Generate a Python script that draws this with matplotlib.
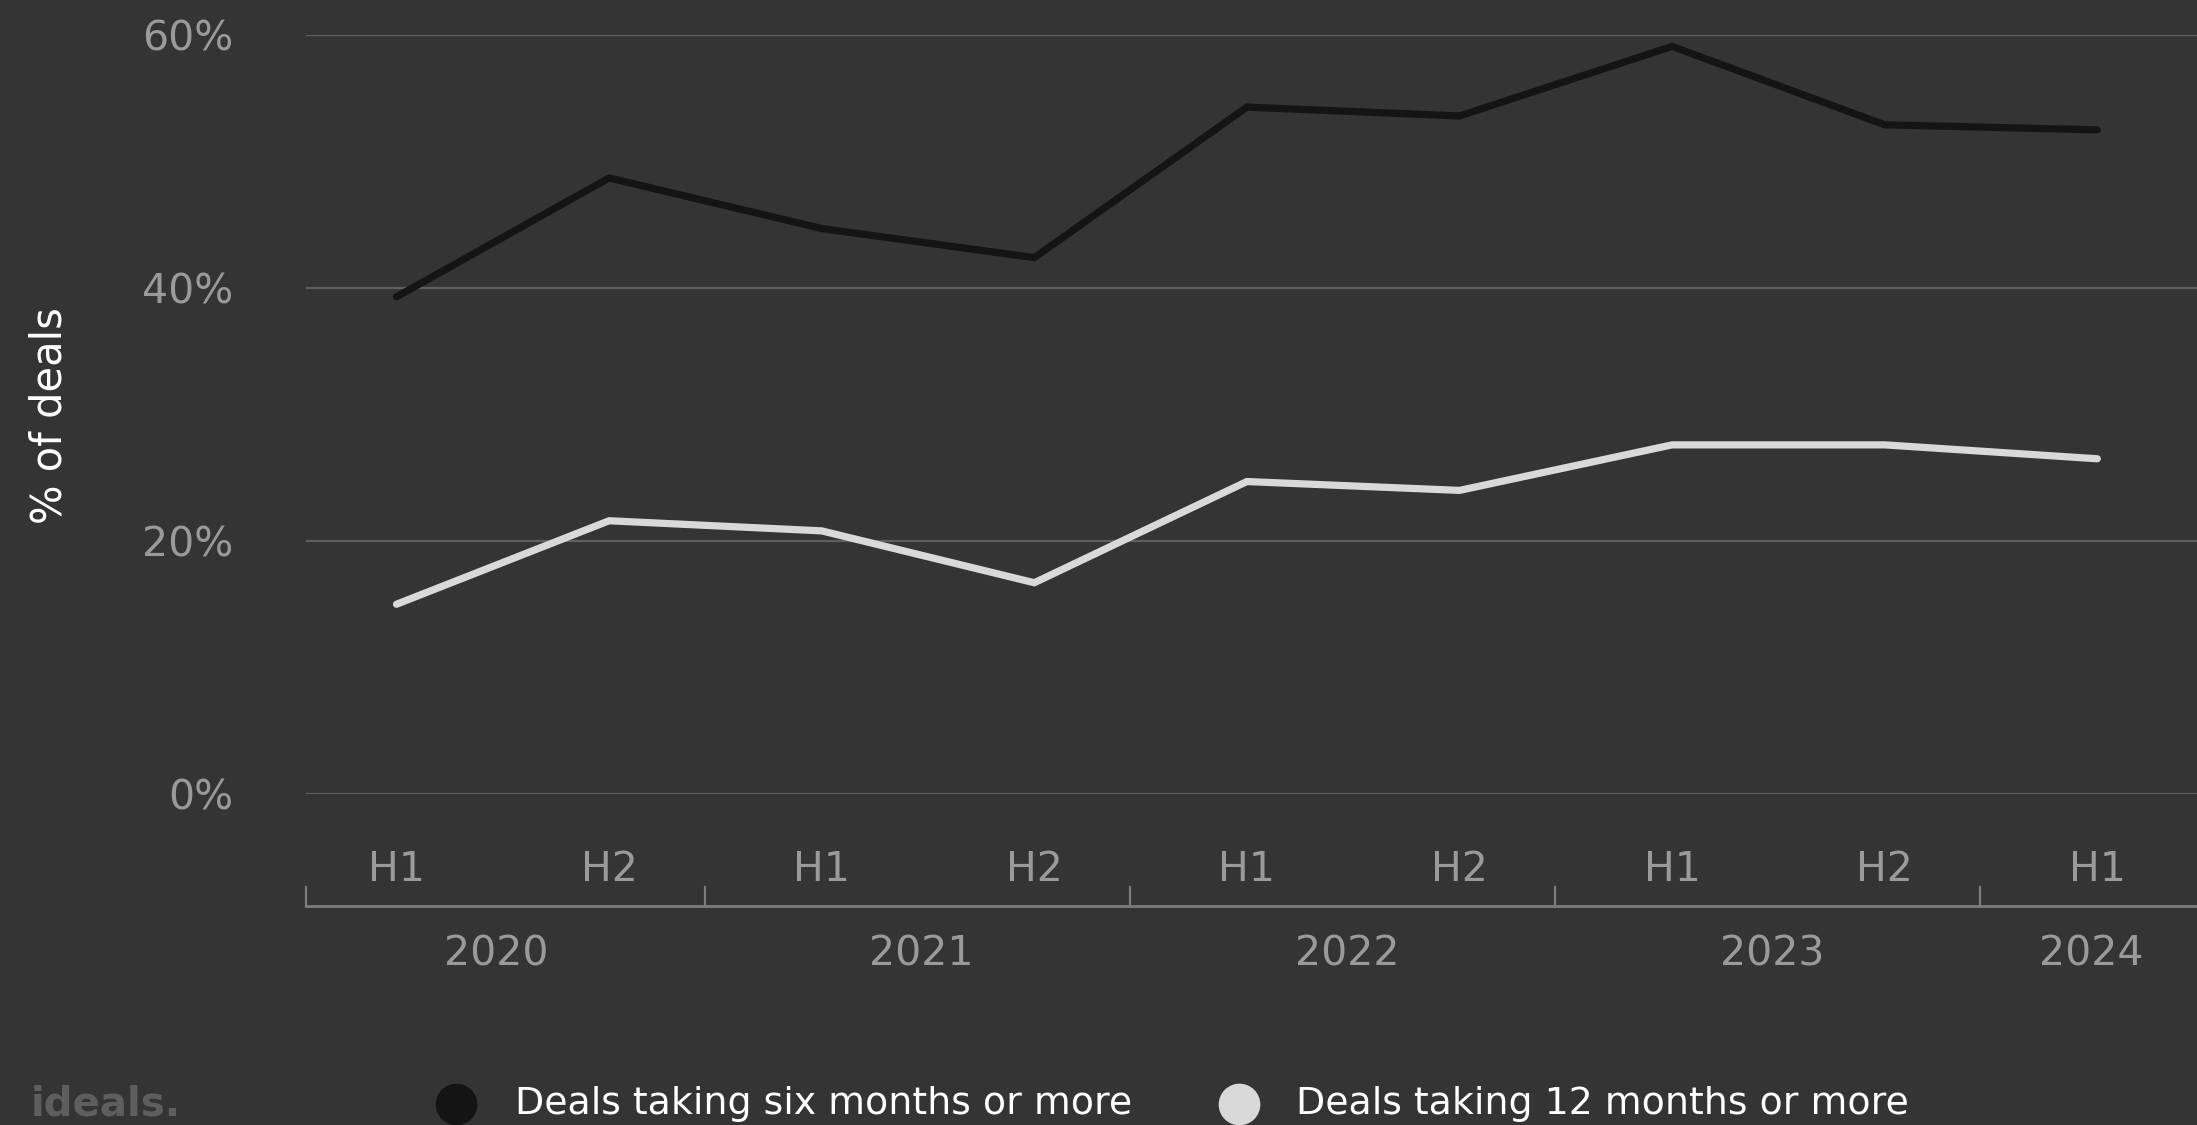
import matplotlib.pyplot as plt
import matplotlib.transforms as mtransforms
from matplotlib.lines import Line2D

# data
halves = ["H1", "H2", "H1", "H2", "H1", "H2", "H1", "H2", "H1"]
years = [2020, 2020, 2021, 2021, 2022, 2022, 2023, 2023, 2024]
six_months = [39.3, 48.7, 44.7, 42.4, 54.3, 53.6, 59.1, 52.9, 52.5]
twelve_months = [15.0, 21.6, 20.8, 16.7, 24.7, 24.0, 27.6, 27.6, 26.5]
y_ticks = [0, 20, 40, 60]
series_names = ["Deals taking six months or more", "Deals taking 12 months or more"]

bg = "#343434"
dark = "#141414"
light = "#d9d9d9"
grey_txt = "#9a9a9a"
W, H = 2197, 1125

plt.rcParams["font.family"] = ["DejaVu Sans"]

fig = plt.figure(figsize=(W / 100, H / 100), dpi=100, facecolor=bg)


def fy(px):
    # pixel row -> figure fraction
    return 1 - px / H


ax = fig.add_axes([305.5 / W, fy(794), 1 - 305.5 / W, (794 - 35) / H])
ax.set_facecolor(bg)

x = list(range(len(halves)))
ax.plot(x, six_months, color=dark, lw=5.2, solid_capstyle="round", solid_joinstyle="miter", zorder=3)
ax.plot(x, twelve_months, color=light, lw=5.2, solid_capstyle="round", solid_joinstyle="miter", zorder=3)

x_left = (305.5 - 396.5) / 212.6
x_right = (W - 396.5) / 212.6
ax.set_xlim(x_left, x_right)
ax.set_ylim(0, 60)

for v in y_ticks:
    ax.axhline(v, color="#5e5e5e", lw=1.6, zorder=1)

ax.set_yticks(y_ticks)
ax.set_yticklabels([f"{v}%" for v in y_ticks])
ax.tick_params(axis="y", length=0, pad=(305.5 - 233) * 0.72, labelsize=29.5, labelcolor=grey_txt)
ax.set_xticks([])
for s in ax.spines.values():
    s.set_visible(False)

fig.text(50 / W, fy(416), "% of deals", rotation=90, color="white", fontsize=30,
         ha="center", va="center")

blend = mtransforms.blended_transform_factory(ax.transData, fig.transFigure)

# half-year labels
for i, h in enumerate(halves):
    fig.text(i, fy(870), h, transform=blend, ha="center", va="center",
             fontsize=29.5, color=grey_txt)

# year group axis
ax.add_line(Line2D([x_left, x_right], [fy(906), fy(906)], transform=blend,
                   color="#7c7c7c", lw=2, clip_on=False))
unique_years = sorted(set(years))
bounds = [x_left]
for yr in unique_years[1:]:
    bounds.append(years.index(yr) - 0.55)
for b in bounds:
    ax.add_line(Line2D([b, b], [fy(887), fy(906)], transform=blend,
                       color="#7c7c7c", lw=1.6, clip_on=False))
for yr in unique_years:
    idx = [i for i, v in enumerate(years) if v == yr]
    cx = sum(idx) / len(idx)
    fig.text(cx - 0.03, fy(955), str(yr), transform=blend, ha="center", va="center",
             fontsize=29.5, color=grey_txt)

# legend
for cx, tx, col, name in [(456, 515, dark, series_names[0]), (1239, 1296, light, series_names[1])]:
    fig.add_artist(Line2D([cx / W], [fy(1104)], marker="o", markersize=30,
                          color=col, markeredgewidth=0, linestyle="none"))
    fig.text(tx / W, fy(1104), name, ha="left", va="center", fontsize=27.3, color="white")

# logo
fig.text(31 / W, fy(1116), "ideals.", ha="left", va="baseline", fontsize=29,
         fontweight="bold", color="#5e5e5e")

fig.savefig("out.png", dpi=100, facecolor=bg)
